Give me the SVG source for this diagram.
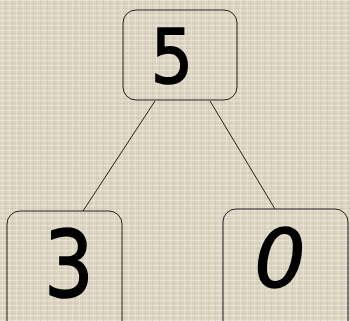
<svg xmlns="http://www.w3.org/2000/svg" width="350" height="321" viewBox="0 0 350 321">
<defs>
<pattern id="linen" width="7" height="5" patternUnits="userSpaceOnUse">
<rect width="7" height="5" fill="#ddd5c3"/>
<rect x="0" y="0" width="7" height="1" fill="#e8e2d3"/>
<rect x="0" y="3" width="7" height="1" fill="#d5ccb9"/>
<rect x="2" y="0" width="1" height="5" fill="#ebe5d7" opacity="0.7"/>
<rect x="5" y="0" width="1" height="5" fill="#d0c7b3" opacity="0.6"/>
</pattern>
<style>
.box{fill:none;stroke:#222;stroke-width:1}
.edge{stroke:#222;stroke-width:1;fill:none}
.digit{font-family:"DejaVu Sans",sans-serif;font-weight:normal;fill:#000;text-anchor:middle;stroke:#000;stroke-width:1.5}
</style>
</defs>
<rect width="350" height="321" fill="url(#linen)"/>
<g id="connectors">
<line class="edge" x1="155" y1="101" x2="83" y2="211"/>
<line class="edge" x1="210" y1="101" x2="275" y2="209"/>
</g>
<g id="node-5">
<rect class="box" x="123" y="10" width="114" height="90" rx="13"/>
<text class="digit" x="172" y="83" font-size="74" transform="translate(172 0) scale(0.9 1) translate(-172 0)">5</text>
</g>
<g id="node-3">
<rect class="box" x="7" y="211" width="115" height="125" rx="13"/>
<text class="digit" x="69" y="297" font-size="92" transform="translate(69 0) scale(0.85 1) translate(-69 0)">3</text>
</g>
<g id="node-0">
<rect class="box" x="223" y="209" width="125" height="125" rx="13"/>
<text class="digit" x="280" y="287" font-size="80" font-style="italic">0</text>
</g>
</svg>
